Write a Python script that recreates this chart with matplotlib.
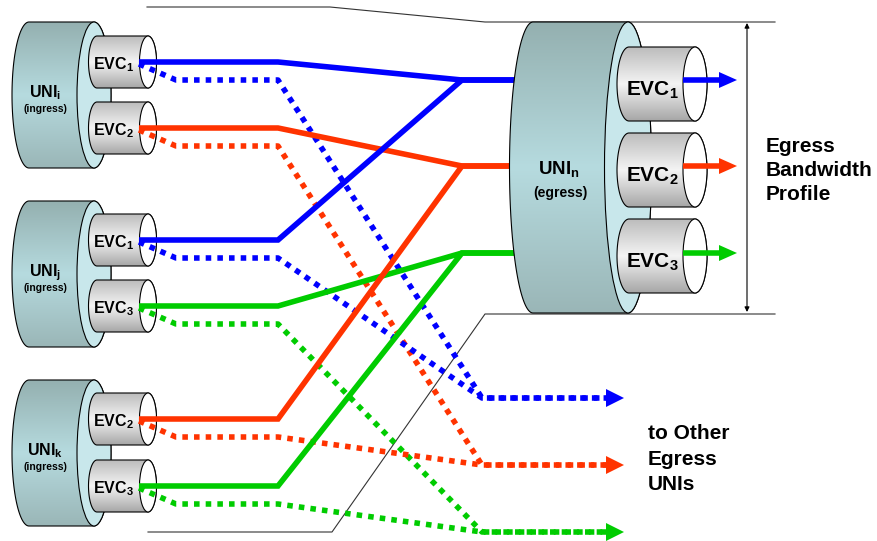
import numpy as np
import matplotlib
matplotlib.use('Agg')
import matplotlib.pyplot as plt
from matplotlib.patches import Polygon, Ellipse

plt.rcParams['font.family'] = ['Liberation Sans', 'DejaVu Sans']
plt.rcParams['mathtext.fontset'] = 'custom'
plt.rcParams['mathtext.rm'] = 'Liberation Sans'
plt.rcParams['mathtext.bf'] = 'Liberation Sans:bold'
plt.rcParams['mathtext.it'] = 'Liberation Sans:italic'

# ingress UNIs and their EVCs
ingress_names = ['i', 'j', 'k']
ingress_cy = [95, 274, 453]
ingress_evcs = [['1', '2'], ['1', '3'], ['2', '3']]
ingress_evc_y = [[62, 128], [240, 306], [419, 486]]

# egress UNI n
egress_evcs = ['1', '2', '3']
egress_line_y = [80, 166, 253]
egress_evc_cy = [84, 170, 256]

# "to other egress UNIs" outputs, per EVC
other_y = [398, 465, 532]

evc_colors = {'1': '#0000ff', '2': '#ff3300', '3': '#00cc00'}

# route waypoints (x)
solid_x = [139, 278, 462, 515]
dotted_x = [139, 176, 278, 482, 607]

uni_stops = ['#94b0b0', '#b6dbdf', '#9ab6b7']
evc_stops = ['#bcbcbc', '#f4f4f4', '#a6a6a6']


def cylinder(ax, xl, xr, cy, rx, ry, stops, face, z):
    t1 = np.linspace(np.pi / 2, 3 * np.pi / 2, 80)
    t2 = np.linspace(-np.pi / 2, np.pi / 2, 80)
    xs = np.concatenate([xl + rx * np.cos(t1), xr + rx * np.cos(t2)])
    ys = np.concatenate([cy - ry * np.sin(t1), cy - ry * np.sin(t2)])
    body = Polygon(np.column_stack([xs, ys]), closed=True, facecolor='none',
                   edgecolor='black', lw=0.8, zorder=z + 0.2)
    ax.add_patch(body)
    n = 200
    pos = np.linspace(0, 1, n)
    rgb = np.array([matplotlib.colors.to_rgb(c) for c in stops])
    sp = np.linspace(0, 1, len(stops))
    grad = np.stack([np.interp(pos, sp, rgb[:, k]) for k in range(3)], axis=1)
    grad = grad[:, None, :]
    im = ax.imshow(grad, extent=(xl - rx, xr + rx, cy + ry, cy - ry),
                   aspect='auto', zorder=z, interpolation='bilinear')
    clip = Polygon(np.column_stack([xs, ys]), closed=True, transform=ax.transData)
    im.set_clip_path(clip)
    ax.add_patch(Ellipse((xr, cy), 2 * rx, 2 * ry, facecolor=face,
                         edgecolor='black', lw=0.8, zorder=z + 0.3))


fig = plt.figure(figsize=(8.77, 5.41), dpi=100)
ax = fig.add_axes([0, 0, 1, 1])
ax.set_xlim(0, 877)
ax.set_ylim(541, 0)
ax.axis('off')

# perspective lines
ax.plot([147, 330, 485, 775], [7, 7, 22, 22], color='#333333', lw=0.8, zorder=1)
ax.plot([148, 332, 485, 775], [532, 532, 314, 314], color='#333333', lw=0.8, zorder=1)

# ingress UNIs
for name, cy, evcs, eys in zip(ingress_names, ingress_cy, ingress_evcs, ingress_evc_y):
    cylinder(ax, 29, 94, cy, 17, 73, uni_stops, '#c8e7eb', 2)
    ax.text(45, cy + 2, 'UNI$_\\mathbf{' + name + '}$', ha='center', va='baseline',
            fontsize=11.5, fontweight='bold', zorder=8)
    ax.text(45, cy + 17, '(ingress)', ha='center', va='baseline',
            fontsize=7.5, fontweight='bold', zorder=8)
    for ev, ey in zip(evcs, eys):
        cylinder(ax, 97, 148, ey, 8.5, 26, evc_stops, 'white', 3)
        ax.text(113, ey + 7, 'EVC$_\\mathbf{' + ev + '}$', ha='center', va='baseline',
                fontsize=11.5, fontweight='bold', zorder=8)
        col = evc_colors[ev]
        k = egress_evcs.index(ev)
        ty = egress_line_y[k]
        ax.plot(solid_x, [ey, ey, ty, ty], color=col, lw=4,
                solid_joinstyle='miter', solid_capstyle='butt', zorder=4)
        dy = ey + 18
        ax.plot(dotted_x, [ey + 2, dy, dy, other_y[k], other_y[k]], color=col, lw=4,
                linestyle=(0, (1, 1.1)), dash_capstyle='butt', zorder=4)

# dotted arrow heads
for ev, oy in zip(egress_evcs, other_y):
    ax.add_patch(Polygon([[606, oy - 9], [624, oy], [606, oy + 9]], closed=True,
                         facecolor=evc_colors[ev], edgecolor='none', zorder=4))

# egress UNI n
cylinder(ax, 533, 628, 167.5, 23.5, 145.5, uni_stops, '#c8e7eb', 5)
ax.text(559, 174, 'UNI$_\\mathbf{n}$', ha='center', va='baseline',
        fontsize=13.5, fontweight='bold', zorder=8)
ax.text(560, 197, '(egress)', ha='center', va='baseline',
        fontsize=10, fontweight='bold', zorder=8)
for ev, ly, cy in zip(egress_evcs, egress_line_y, egress_evc_cy):
    cylinder(ax, 629, 695, cy, 12, 37, evc_stops, 'white', 6)
    ax.text(652, cy + 12, 'EVC$_\\mathbf{' + ev + '}$', ha='center', va='baseline',
            fontsize=15, fontweight='bold', zorder=8)
    col = evc_colors[ev]
    ax.plot([683, 720], [ly, ly], color=col, lw=4, solid_capstyle='butt', zorder=7)
    ax.add_patch(Polygon([[719, ly - 8], [737, ly], [719, ly + 8]], closed=True,
                         facecolor=col, edgecolor='none', zorder=7))

# bandwidth profile span
ax.annotate('', xy=(747, 23), xytext=(747, 312),
            arrowprops=dict(arrowstyle='<|-|>', color='black', lw=0.8,
                            mutation_scale=7, shrinkA=0, shrinkB=0), zorder=8)

for txt, by in zip(['Egress', 'Bandwidth', 'Profile'], [152, 176, 200]):
    ax.text(766, by, txt, ha='left', va='baseline', fontsize=15, fontweight='bold')
for txt, by in zip(['to Other', 'Egress', 'UNIs'], [439, 465, 490]):
    ax.text(648, by, txt, ha='left', va='baseline', fontsize=15, fontweight='bold')

fig.savefig('out.png', dpi=100)
